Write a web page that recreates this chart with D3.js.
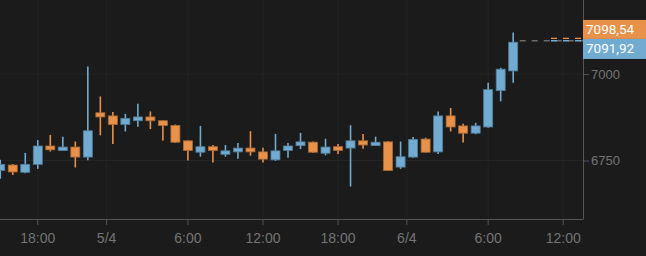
<!DOCTYPE html>
<html>
<head>
<meta charset="utf-8">
<script src="https://cdn.jsdelivr.net/npm/d3@7"></script>
<style>
  html, body { margin: 0; padding: 0; background: #1b1b1b; }
  svg { display: block; font-family: Roboto, sans-serif; }
</style>
</head>
<body>
<svg id="canvas" width="646" height="256"></svg>
<script>
// hourly candles, 4/4 15:00 -> 6/4 08:00
let firstHour = new Date(2020, 3, 4, 15);
let openValues  = [6721, 6737, 6716, 6739, 6792, 6779, 6789, 6760, 6888, 6879, 6854, 6865, 6876, 6865, 6851, 6807, 6774, 6790, 6768, 6775, 6786, 6775, 6752, 6779, 6793, 6803, 6771, 6790, 6786, 6807, 6793, 6804, 6731, 6760, 6812, 6775, 6879, 6850, 6829, 6847, 6952, 7009];
let highValues  = [6752, 6740, 6772, 6809, 6824, 6819, 6805, 7022, 6935, 6890, 6885, 6914, 6892, 6866, 6854, 6808, 6850, 6795, 6795, 6801, 6835, 6787, 6827, 6801, 6830, 6805, 6813, 6798, 6852, 6827, 6819, 6806, 6805, 6818, 6816, 6892, 6902, 6856, 6859, 6975, 7018, 7120];
let lowValues   = [6697, 6708, 6713, 6726, 6776, 6779, 6730, 6751, 6823, 6798, 6834, 6848, 6841, 6808, 6801, 6750, 6761, 6744, 6761, 6755, 6764, 6744, 6749, 6758, 6783, 6772, 6765, 6769, 6675, 6784, 6792, 6720, 6726, 6758, 6773, 6769, 6834, 6802, 6826, 6845, 6921, 6975];
let closeValues = [6739, 6717, 6739, 6792, 6781, 6789, 6760, 6836, 6876, 6854, 6872, 6876, 6865, 6851, 6803, 6779, 6790, 6779, 6778, 6786, 6775, 6754, 6778, 6792, 6804, 6774, 6789, 6779, 6807, 6795, 6803, 6721, 6761, 6811, 6774, 6879, 6847, 6829, 6850, 6955, 7014, 7092];

let yTicks = [6750, 7000];
let hourTickLabels = ['18:00', '6:00', '12:00', '18:00', '6:00', '12:00'];
let dayTickLabels = ['5/4', '6/4'];
let lastPrices = [7098.54, 7091.92]; // ask, last
let lastPriceColors = ['#e8914a', '#72abd2'];

let upColor = '#72abd2';
let downColor = '#e8914a';

let canvas = d3.select('#canvas');
let plotRight = 583;
let plotBottom = 219;

let candles = openValues.map((o, i) => ({
    time: d3.timeHour.offset(firstHour, i),
    open: o,
    high: highValues[i],
    low: lowValues[i],
    close: closeValues[i]
}));

// a few empty hours after the last candle
let hours = d3.timeHour.range(firstHour, d3.timeHour.offset(firstHour, 47));

let x = d3.scaleBand()
    .domain(hours)
    .range([-6, 582])
    .padding(0);

let y = d3.scaleLinear()
    .domain([6581, 7214])
    .range([plotBottom, 0]);

let step = x.step();
let bodyWidth = step * 0.72;
let centerOf = (t) => x(t) + step / 2;

let hourTicks = hours.filter(t => t.getHours() % 6 === 0 && t.getHours() !== 0);
let dayTicks = hours.filter(t => t.getHours() === 0);

// grid
let grid = canvas.append('g');
grid.selectAll('.vgrid-h')
    .data(hourTicks)
    .enter()
    .append('line')
    .attr('x1', t => centerOf(t))
    .attr('x2', t => centerOf(t))
    .attr('y1', 0)
    .attr('y2', plotBottom)
    .attr('stroke', '#242424');
grid.selectAll('.vgrid-d')
    .data(dayTicks)
    .enter()
    .append('line')
    .attr('x1', t => x(t))
    .attr('x2', t => x(t))
    .attr('y1', 0)
    .attr('y2', plotBottom)
    .attr('stroke', '#242424');
grid.selectAll('.hgrid')
    .data(yTicks)
    .enter()
    .append('line')
    .attr('x1', 0)
    .attr('x2', plotRight)
    .attr('y1', d => y(d))
    .attr('y2', d => y(d))
    .attr('stroke', '#262626');

// candles
let candleGroup = canvas.append('g');
let candle = candleGroup.selectAll('g')
    .data(candles)
    .enter()
    .append('g');

candle.append('line')
    .attr('x1', d => centerOf(d.time))
    .attr('x2', d => centerOf(d.time))
    .attr('y1', d => y(d.high))
    .attr('y2', d => y(d.low))
    .attr('stroke', d => d.close >= d.open ? upColor : downColor)
    .attr('stroke-width', 1.6);

candle.append('rect')
    .attr('x', d => centerOf(d.time) - bodyWidth / 2)
    .attr('y', d => y(Math.max(d.open, d.close)))
    .attr('width', bodyWidth)
    .attr('height', d => Math.max(1, Math.abs(y(d.open) - y(d.close))))
    .attr('fill', d => d.close >= d.open ? upColor : downColor)
    .attr('stroke', d => d3.color(d.close >= d.open ? upColor : downColor).darker(0.9))
    .attr('stroke-width', 0.8);

// last price lines
let lastCandle = candles[candles.length - 1];
canvas.append('line')
    .attr('x1', centerOf(lastCandle.time) + bodyWidth / 2 + 2)
    .attr('x2', plotRight)
    .attr('y1', y(lastCandle.close) - 1.5)
    .attr('y2', y(lastCandle.close) - 1.5)
    .attr('stroke', '#6a6a6a')
    .attr('stroke-width', 1.5)
    .attr('stroke-dasharray', '6,6');

canvas.selectAll('.priceline')
    .data(lastPrices)
    .enter()
    .append('line')
    .attr('x1', plotRight - 32)
    .attr('x2', plotRight)
    .attr('y1', d => y(d) - 1.5)
    .attr('y2', d => y(d) - 1.5)
    .attr('stroke', (d, i) => lastPriceColors[i])
    .attr('stroke-width', 1.3)
    .attr('stroke-dasharray', '6,6');

// axes
let axisColor = '#555';
let labelColor = '#747474';

let xAxisHours = d3.axisBottom(x)
    .tickValues(hourTicks)
    .tickFormat((t, i) => hourTickLabels[i])
    .tickSize(6)
    .tickSizeOuter(0);

let xAxisDays = d3.axisBottom(x)
    .tickValues(dayTicks)
    .tickFormat((t, i) => dayTickLabels[i])
    .tickSize(6)
    .tickSizeOuter(0);

let gxh = canvas.append('g')
    .attr('transform', `translate(0, ${plotBottom})`)
    .call(xAxisHours);
let gxd = canvas.append('g')
    .attr('transform', `translate(${-step / 2}, ${plotBottom})`)
    .call(xAxisDays);
gxd.select('.domain').remove();
gxh.select('.domain').attr('d', `M0,0.5H${plotRight}`);

[gxh, gxd].forEach(g => {
    g.selectAll('line').attr('stroke', axisColor);
    g.selectAll('text')
        .attr('fill', labelColor)
        .attr('dy', '1.05em')
        .style('font-size', '14px')
        .style('font-weight', 300);
});
gxh.select('.domain').attr('stroke', axisColor);

let yAxis = d3.axisRight(y)
    .tickValues(yTicks)
    .tickFormat(d3.format('d'))
    .tickSize(6)
    .tickSizeOuter(0);

let gy = canvas.append('g')
    .attr('transform', `translate(${plotRight}, 0)`)
    .call(yAxis);
gy.select('.domain').attr('d', `M0.5,0V${plotBottom + 0.5}`).attr('stroke', axisColor);
gy.selectAll('line').attr('stroke', axisColor);
gy.selectAll('text')
    .attr('fill', labelColor)
    .attr('x', 8)
    .style('font-size', '13px')
    .style('font-weight', 300);

// last price labels on the right axis
let labelHeight = 19;
let blueTop = y(lastPrices[0]) - 1;
let labelTops = [blueTop - labelHeight, blueTop];

let priceLabel = canvas.selectAll('.pricelabel')
    .data(lastPrices)
    .enter()
    .append('g')
    .attr('transform', (d, i) => `translate(${plotRight}, ${labelTops[i]})`);

priceLabel.append('rect')
    .attr('width', 646 - plotRight)
    .attr('height', (d, i) => i === 0 ? labelHeight : labelHeight + 1)
    .attr('fill', (d, i) => lastPriceColors[i]);

priceLabel.append('text')
    .text(d => d3.format('.2f')(d).replace('.', ','))
    .attr('x', 3)
    .attr('y', labelHeight / 2)
    .attr('dy', '0.36em')
    .attr('fill', 'white')
    .style('font-size', '13.5px');
</script>
</body>
</html>
